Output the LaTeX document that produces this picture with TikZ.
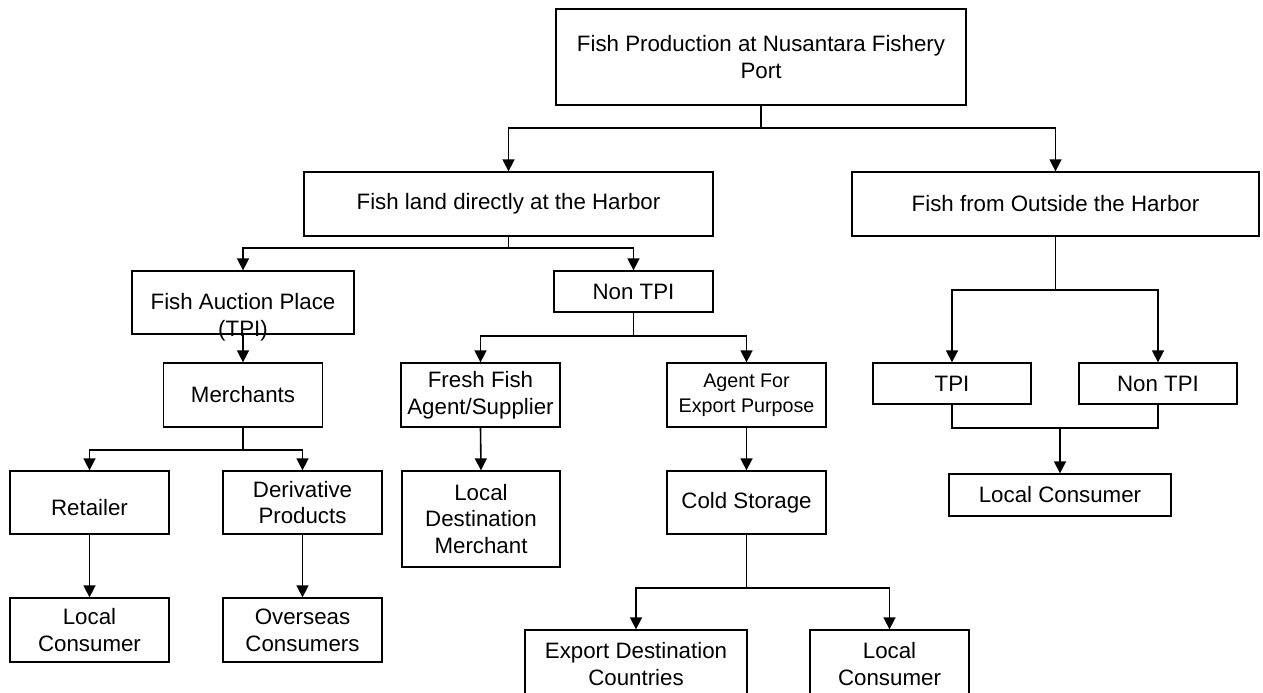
\documentclass[tikz,border=0pt]{standalone}
\usepackage{fontspec}
\setmainfont{Liberation Sans}
\usetikzlibrary{arrows.meta}
\begin{document}
\begin{tikzpicture}[x=1pt,y=-1pt,
  bx/.style={draw, line width=1.3pt, inner sep=0pt, align=center,
    font=\fontsize{22.3pt}{26.8pt}\selectfont},
  txt/.style={inner sep=0pt, align=center, font=\fontsize{22.3pt}{26.8pt}\selectfont},
  ln/.style={line width=1.6pt},
  arr/.style={line width=1.6pt, -{Triangle[length=12pt,width=12pt]}}]
\useasboundingbox (0,0) rectangle (1263,693);
\fill[white] (0,0) rectangle (1263,693);
% boxes
\node[bx, minimum width=410, minimum height=96] (top) at (761,57) {Fish Production at Nusantara Fishery\\Port};
\node[bx, minimum width=409, minimum height=64] (land) at (508.5,204) {Fish land directly at the Harbor};
\node[bx, minimum width=407, minimum height=64] (out) at (1055.5,204) {Fish from Outside the Harbor};
\node[bx, minimum width=222, minimum height=63] (auction) at (243,302.5) {};
\node[txt] (auctiontext) at (243,317) {Fish Auction Place\\(TPI)};
\node[bx, minimum width=159, minimum height=41] (nontpi) at (633.5,291.5) {Non TPI};
\node[bx, minimum width=159, minimum height=64] (merch) at (243,395) {Merchants};
\node[bx, minimum width=159, minimum height=64] (fresh) at (480.5,395) {Fresh Fish\\Agent/Supplier};
\node[bx, minimum width=159, minimum height=64, font=\fontsize{19.7pt}{25pt}\selectfont] (agent) at (746.5,395) {Agent For\\Export Purpose};
\node[bx, minimum width=158, minimum height=41] (tpi) at (952,383.5) {TPI};
\node[bx, minimum width=158, minimum height=41] (ntpi) at (1158,383.5) {Non TPI};
\node[bx, minimum width=159, minimum height=63] (retail) at (89.5,502.5) {~\\Retailer};
\node[bx, minimum width=159, minimum height=63] (deriv) at (302.5,502.5) {Derivative\\Products};
\node[bx, minimum width=158, minimum height=96] (ldm) at (481,519) {Local\\Destination\\Merchant};
\node[bx, minimum width=159, minimum height=63] (cold) at (746.5,502.5) {Cold Storage};
\node[bx, minimum width=222, minimum height=42] (lcr) at (1060,495) {Local Consumer};
\node[bx, minimum width=159, minimum height=64] (lcl) at (89.5,630) {Local\\Consumer};
\node[bx, minimum width=159, minimum height=64] (over) at (302.5,630) {Overseas\\Consumers};
\node[bx, minimum width=222, minimum height=68] (export) at (636,664) {Export Destination\\Countries};
\node[bx, minimum width=159, minimum height=68] (lcb) at (889.5,664) {Local\\Consumer};
% junctions
\coordinate (j1) at (761,128);
\coordinate (j2) at (508.5,248);
\coordinate (j3) at (243,450);
\coordinate (j4) at (633.5,336);
\coordinate (j5) at (746.5,588);
\coordinate (j6) at (1055.5,290);
\coordinate (j7) at (1060,428);
% connectors
\draw[ln] (top.south) -- (j1);
\draw[arr] (j1) -| (land.north);
\draw[arr] (j1) -| (out.north);
\draw[ln] (land.south) -- (j2);
\draw[arr] (j2) -| (auction.north);
\draw[arr] (j2) -| (nontpi.north);
\draw[arr] (auction.south) -- (merch.north);
\draw[ln] (merch.south) -- (j3);
\draw[arr] (j3) -| (retail.north);
\draw[arr] (j3) -| (deriv.north);
\draw[arr] (retail.south) -- (lcl.north);
\draw[arr] (deriv.south) -- (over.north);
\draw[ln] (nontpi.south) -- (j4);
\draw[arr] (j4) -| (fresh.north);
\draw[arr] (j4) -| (agent.north);
\draw[arr] (fresh.south) -- (ldm.north);
\draw[arr] (agent.south) -- (cold.north);
\draw[ln] (cold.south) -- (j5);
\draw[arr] (j5) -| (export.north);
\draw[arr] (j5) -| (lcb.north);
\draw[ln] (out.south) -- (j6);
\draw[arr] (j6) -| (tpi.north);
\draw[arr] (j6) -| (ntpi.north);
\draw[ln] (tpi.south) |- (j7) -| (ntpi.south);
\draw[arr] (j7) -- (lcr.north);
\end{tikzpicture}
\end{document}
